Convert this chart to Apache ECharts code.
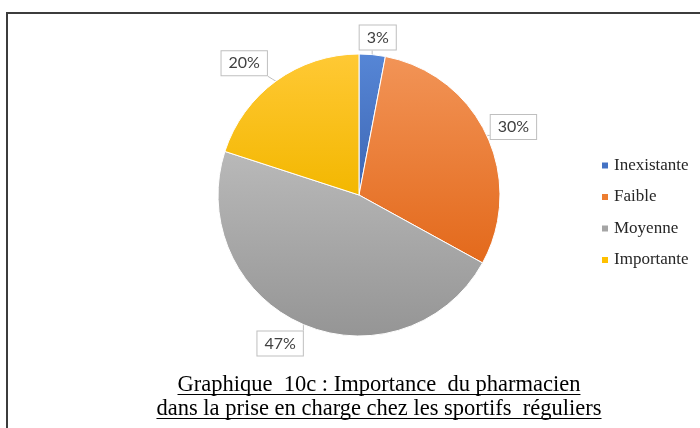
<!DOCTYPE html>
<html>
<head>
<meta charset="utf-8">
<script src="https://cdn.jsdelivr.net/npm/echarts@6/dist/echarts.min.js"></script>
<style>
  html, body { margin: 0; padding: 0; background: #ffffff; }
  #chart { width: 700px; height: 428px; }
</style>
</head>
<body>
<div id="chart"></div>
<script>
// Répartition des réponses (en %)
const categories = ['Inexistante', 'Faible', 'Moyenne', 'Importante'];
const shares = [3, 30, 47, 20];
const titleLines = [
  'Graphique  10c : Importance  du pharmacien',
  'dans la prise en charge chez les sportifs  réguliers'
];

// Palette: flat colour for the legend, top/bottom shades for the slice gradient
const baseColors = ['#4472C4', '#ED7D31', '#A5A5A5', '#FFC000'];
const topColors = ['#5686D6', '#F29457', '#B9B9B9', '#FFC935'];
const bottomColors = ['#3D66B3', '#E3691B', '#959595', '#F3B700'];

// Pie geometry (pixels)
const CX = 359, CY = 195, R = 141;
const LABEL_GAP = 6;
// Fine offsets applied to each data callout after radial placement
const labelNudge = [[3.5, 3.5], [-3, 6], [-12, -6], [-14, 7]];

const total = shares.reduce((a, b) => a + b, 0);
function midAngle(i) {
  let before = 0;
  for (let k = 0; k < i; k++) before += shares[k];
  return (before + shares[i] / 2) / total * 2 * Math.PI;
}

const chart = echarts.init(document.getElementById('chart'), null, { renderer: 'canvas' });

// Measure title lines to size the underlines
const measureCtx = document.createElement('canvas').getContext('2d');
const TITLE_SIZE = 22.5;
const TITLE_FONT = TITLE_SIZE + 'px "Liberation Serif"';
measureCtx.font = TITLE_FONT;
const titleX = 379;
const titleBaselines = [392, 416];
const titleGraphics = [];
titleLines.forEach((line, i) => {
  const w = measureCtx.measureText(line).width;
  titleGraphics.push({
    type: 'text',
    left: titleX - w / 2,
    top: titleBaselines[i] - TITLE_SIZE * 0.8,
    style: { text: line, font: TITLE_FONT, fill: '#000000' }
  });
  titleGraphics.push({
    type: 'line',
    shape: { x1: titleX - w / 2, y1: titleBaselines[i] + 2.5, x2: titleX + w / 2, y2: titleBaselines[i] + 2.5 },
    style: { stroke: '#000000', lineWidth: 1 }
  });
});

const option = {
  animation: false,
  backgroundColor: '#ffffff',
  legend: {
    orient: 'vertical',
    left: 600,
    top: 157,
    padding: 0,
    itemWidth: 8,
    itemHeight: 8,
    itemGap: 14.5,
    icon: 'rect',
    textStyle: {
      fontFamily: 'Liberation Serif',
      fontSize: 17,
      lineHeight: 17,
      color: '#262626'
    },
    data: categories.map((name, i) => ({ name, itemStyle: { color: baseColors[i] } }))
  },
  graphic: [
    {
      type: 'rect',
      shape: { x: 7, y: 13, width: 720, height: 440 },
      style: { fill: 'none', stroke: '#3c3c3c', lineWidth: 2 },
      silent: true
    }
  ].concat(titleGraphics),
  series: [{
    type: 'pie',
    center: [CX, CY],
    radius: [0, R],
    startAngle: 90,
    clockwise: true,
    avoidLabelOverlap: false,
    itemStyle: { borderColor: '#ffffff', borderWidth: 1 },
    label: {
      show: true,
      position: 'outside',
      formatter: '{c}%',
      fontFamily: 'Lato',
      fontSize: 16,
      lineHeight: 17,
      color: '#404040',
      backgroundColor: '#ffffff',
      borderColor: '#bfbfbf',
      borderWidth: 1,
      padding: [4, 7, 3, 7]
    },
    labelLine: {
      show: true,
      length: 6,
      length2: 4,
      lineStyle: { color: '#bfbfbf', width: 1 }
    },
    labelLayout: function (p) {
      const a = midAngle(p.dataIndex);
      const dx = Math.sin(a), dy = -Math.cos(a);
      const w = p.labelRect.width, h = p.labelRect.height;
      const ext = w / 2 * Math.abs(dx) + h / 2 * Math.abs(dy);
      const d = R + LABEL_GAP + ext;
      const n = labelNudge[p.dataIndex];
      const x = CX + d * dx + n[0];
      const y = CY + d * dy + n[1];
      // Leader: from the slice edge at its mid-angle to the nearest point of the callout box
      const sx = CX + (R - 1) * dx, sy = CY + (R - 1) * dy;
      const ex = Math.min(Math.max(sx, x - w / 2), x + w / 2);
      const ey = Math.min(Math.max(sy, y - h / 2), y + h / 2);
      return {
        x, y, align: 'center', verticalAlign: 'middle',
        labelLinePoints: [[sx, sy], [(sx + ex) / 2, (sy + ey) / 2], [ex, ey]]
      };
    },
    data: categories.map((name, i) => ({
      name,
      value: shares[i],
      itemStyle: {
        color: new echarts.graphic.LinearGradient(0, 0, 0, 1, [
          { offset: 0, color: topColors[i] },
          { offset: 1, color: bottomColors[i] }
        ])
      }
    }))
  }]
};

chart.setOption(option);
</script>
</body>
</html>
